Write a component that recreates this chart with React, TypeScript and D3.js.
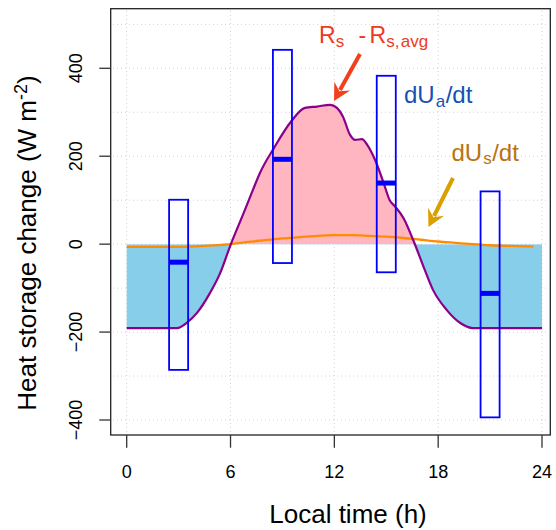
import React from "react";
import * as d3 from "d3";

const xTicks = [0, 6, 12, 18, 24];
const yTicks = [-400, -200, 0, 200, 400];
const gridYValues = [-400, -300, -200, -100, 0, 100, 200, 300, 400, 500];
const gridXValues = [0, 6, 12, 18, 24];

// Rs - Rs,avg (purple curve)
const rsT = [0, 2.9, 3.5, 4.05, 4.8, 5.4, 6.0, 6.75, 7.3, 7.7, 8.5, 9.5, 10.3, 11.0, 11.75, 12.15, 12.5, 12.9, 13.2, 13.6, 13.9, 14.35, 14.85, 15.2, 15.5, 16.0, 16.55, 17.15, 17.7, 18.5, 19.3, 20.0, 24];
const rsV = [-191, -191, -178, -157, -112, -66, -2, 70, 124, 162, 218, 279, 310, 313, 317, 310, 290, 249, 237, 239, 226, 192, 139, 100, 86, 59, 10, -51, -104, -150, -180, -191, -191];

// dUs/dt (orange curve)
const usT = [0, 1, 2, 3, 4, 5, 6, 7, 8, 9, 10, 11, 12, 13, 14, 15, 16, 17, 18, 19, 20, 21, 22, 23, 23.5];
const usV = [-6, -6, -6, -6, -5, -3, 0, 5, 9, 13, 16, 19, 20.5, 20.5, 19, 17, 14, 10, 6, 3, 0, -2.5, -4, -5, -5.5];

// dUa/dt boxes
const boxT = [3, 9, 15, 21];
const boxTop = [101, 442, 383, 120];
const boxMed = [-41, 193, 139, -112];
const boxBottom = [-286, -43, -64, -394];
const boxHalf = 0.55;

const FONT = "'Liberation Sans', Arial, Helvetica, sans-serif";

function arrowHead(x1: number, y1: number, x2: number, y2: number, len: number, half: number, notch: number) {
  const dx = x2 - x1, dy = y2 - y1;
  const L = Math.hypot(dx, dy);
  const ux = dx / L, uy = dy / L;
  const px = -uy, py = ux;
  const bx = x2 - ux * len, by = y2 - uy * len;
  const nx = x2 - ux * (len - notch), ny = y2 - uy * (len - notch);
  return `M${x2},${y2} L${bx + px * half},${by + py * half} L${nx},${ny} L${bx - px * half},${by - py * half} Z`;
}

export default function App() {
  const x = d3.scaleLinear().domain([0, 24]).range([126.7, 542]);
  const y = d3.scaleLinear().domain([-400, 400]).range([420, 68.3]);

  const box = { l: 110.7, t: 8.7, r: 550.3, b: 435 };

  const rsData = rsT.map((t, i) => [t, rsV[i]] as [number, number]);
  const usData = usT.map((t, i) => [t, usV[i]] as [number, number]);

  const area = d3.area<[number, number]>()
    .x((d) => x(d[0]))
    .y0(y(0))
    .y1((d) => y(d[1]))
    .curve(d3.curveMonotoneX);
  const line = d3.line<[number, number]>()
    .x((d) => x(d[0]))
    .y((d) => y(d[1]))
    .curve(d3.curveMonotoneX);

  const areaPath = area(rsData) || "";
  const rsPath = line(rsData) || "";
  const usPath = line(usData) || "";

  const y0 = y(0);

  const redArrow = { x1: 360, y1: 54, x2: 334, y2: 101 };
  const goldArrow = { x1: 453, y1: 178, x2: 428.5, y2: 227 };

  return (
    <svg
      width={556}
      height={530}
      style={{ position: "absolute", left: 0, top: 0, background: "#fff" }}
      fontFamily={FONT}
    >
      <defs>
        <clipPath id="above">
          <rect x={0} y={0} width={556} height={y0} />
        </clipPath>
        <clipPath id="below">
          <rect x={0} y={y0} width={556} height={530 - y0} />
        </clipPath>
      </defs>

      {/* grid */}
      <g stroke="#d3d3d3" strokeWidth={1} strokeDasharray="1,3">
        {gridYValues.map((v) => (
          <line key={"gy" + v} x1={113} x2={548} y1={y(v)} y2={y(v)} />
        ))}
        {gridXValues.map((t) => (
          <line key={"gx" + t} x1={x(t)} x2={x(t)} y1={11} y2={433} />
        ))}
      </g>

      {/* fills */}
      <path d={areaPath} fill="#FFB6C1" clipPath="url(#above)" />
      <path d={areaPath} fill="#87CEEB" clipPath="url(#below)" />

      {/* dUs/dt */}
      <path d={usPath} fill="none" stroke="#FF8C00" strokeWidth={2.3} />
      {/* Rs - Rs,avg */}
      <path d={rsPath} fill="none" stroke="#8B008B" strokeWidth={2.2} />

      {/* boxes */}
      {boxT.map((t, i) => (
        <g key={"b" + i}>
          <rect
            x={x(t - boxHalf)}
            y={y(boxTop[i])}
            width={x(t + boxHalf) - x(t - boxHalf)}
            height={y(boxBottom[i]) - y(boxTop[i])}
            fill="none"
            stroke="#0000FF"
            strokeWidth={1.8}
          />
          <line
            x1={x(t - boxHalf)}
            x2={x(t + boxHalf)}
            y1={y(boxMed[i])}
            y2={y(boxMed[i])}
            stroke="#0000FF"
            strokeWidth={5}
          />
        </g>
      ))}

      {/* plot box */}
      <rect x={box.l} y={box.t} width={box.r - box.l} height={box.b - box.t} fill="none" stroke="#222" strokeWidth={1.3} />

      {/* x axis ticks */}
      <g>
        {xTicks.map((t) => (
          <g key={"xt" + t}>
            <line x1={x(t)} x2={x(t)} y1={box.b} y2={447.7} stroke="#333" strokeWidth={1.3} />
            <text x={x(t)} y={478} textAnchor="middle" fontSize={18} fill="#000">
              {t}
            </text>
          </g>
        ))}
      </g>

      {/* y axis ticks */}
      <g>
        {yTicks.map((v) => (
          <g key={"yt" + v}>
            <line x1={99.3} x2={box.l} y1={y(v)} y2={y(v)} stroke="#333" strokeWidth={1.3} />
            <text
              transform={`translate(82,${y(v)}) rotate(-90)`}
              textAnchor="middle"
              fontSize={18}
              fill="#000"
            >
              {v < 0 ? "\u2212" + Math.abs(v) : String(v)}
            </text>
          </g>
        ))}
      </g>

      {/* axis labels */}
      <text x={348} y={523} textAnchor="middle" fontSize={26} fill="#000">
        Local time (h)
      </text>
      <text transform="translate(35.5,243) rotate(-90)" textAnchor="middle" fontSize={26} fill="#000">
        Heat storage change (W m
        <tspan fontSize={18} dy={-9}>-2</tspan>
        <tspan dy={9}>)</tspan>
      </text>

      {/* Rs - Rs,avg annotation */}
      <g fill="#EE3A1E">
        <text x={319} y={43.3} fontSize={23}>
          R<tspan fontSize={17} dy={3.2}>s</tspan>
        </text>
        <text x={358.5} y={43.3} fontSize={23}>-</text>
        <text x={369.5} y={43.3} fontSize={23}>
          R<tspan fontSize={17} dy={3.2}>s,</tspan>
          <tspan fontSize={17} dx={1.5}>avg</tspan>
        </text>
      </g>
      <line x1={redArrow.x1} y1={redArrow.y1} x2={redArrow.x2 + 6} y2={redArrow.y2 - 11} stroke="#F2401E" strokeWidth={4} />
      <path d={arrowHead(redArrow.x1, redArrow.y1, redArrow.x2, redArrow.y2, 17, 9, 6)} fill="#F2401E" />

      {/* dUa/dt annotation */}
      <text x={404} y={103.3} fontSize={24} fill="#1550B4">
        dU<tspan fontSize={17} dy={3.2} dx={1}>a</tspan>
        <tspan dy={-3.2} dx={0.5}>/dt</tspan>
      </text>

      {/* dUs/dt annotation */}
      <text x={451.5} y={160.7} fontSize={24} fill="#B8730F">
        dU<tspan fontSize={17} dy={3.2} dx={1}>s</tspan>
        <tspan dy={-3.2} dx={0.5}>/dt</tspan>
      </text>
      <line x1={goldArrow.x1} y1={goldArrow.y1} x2={goldArrow.x2 + 5.5} y2={goldArrow.y2 - 11} stroke="#D9A000" strokeWidth={4} />
      <path d={arrowHead(goldArrow.x1, goldArrow.y1, goldArrow.x2, goldArrow.y2, 17, 9, 6)} fill="#D9A000" />
    </svg>
  );
}
